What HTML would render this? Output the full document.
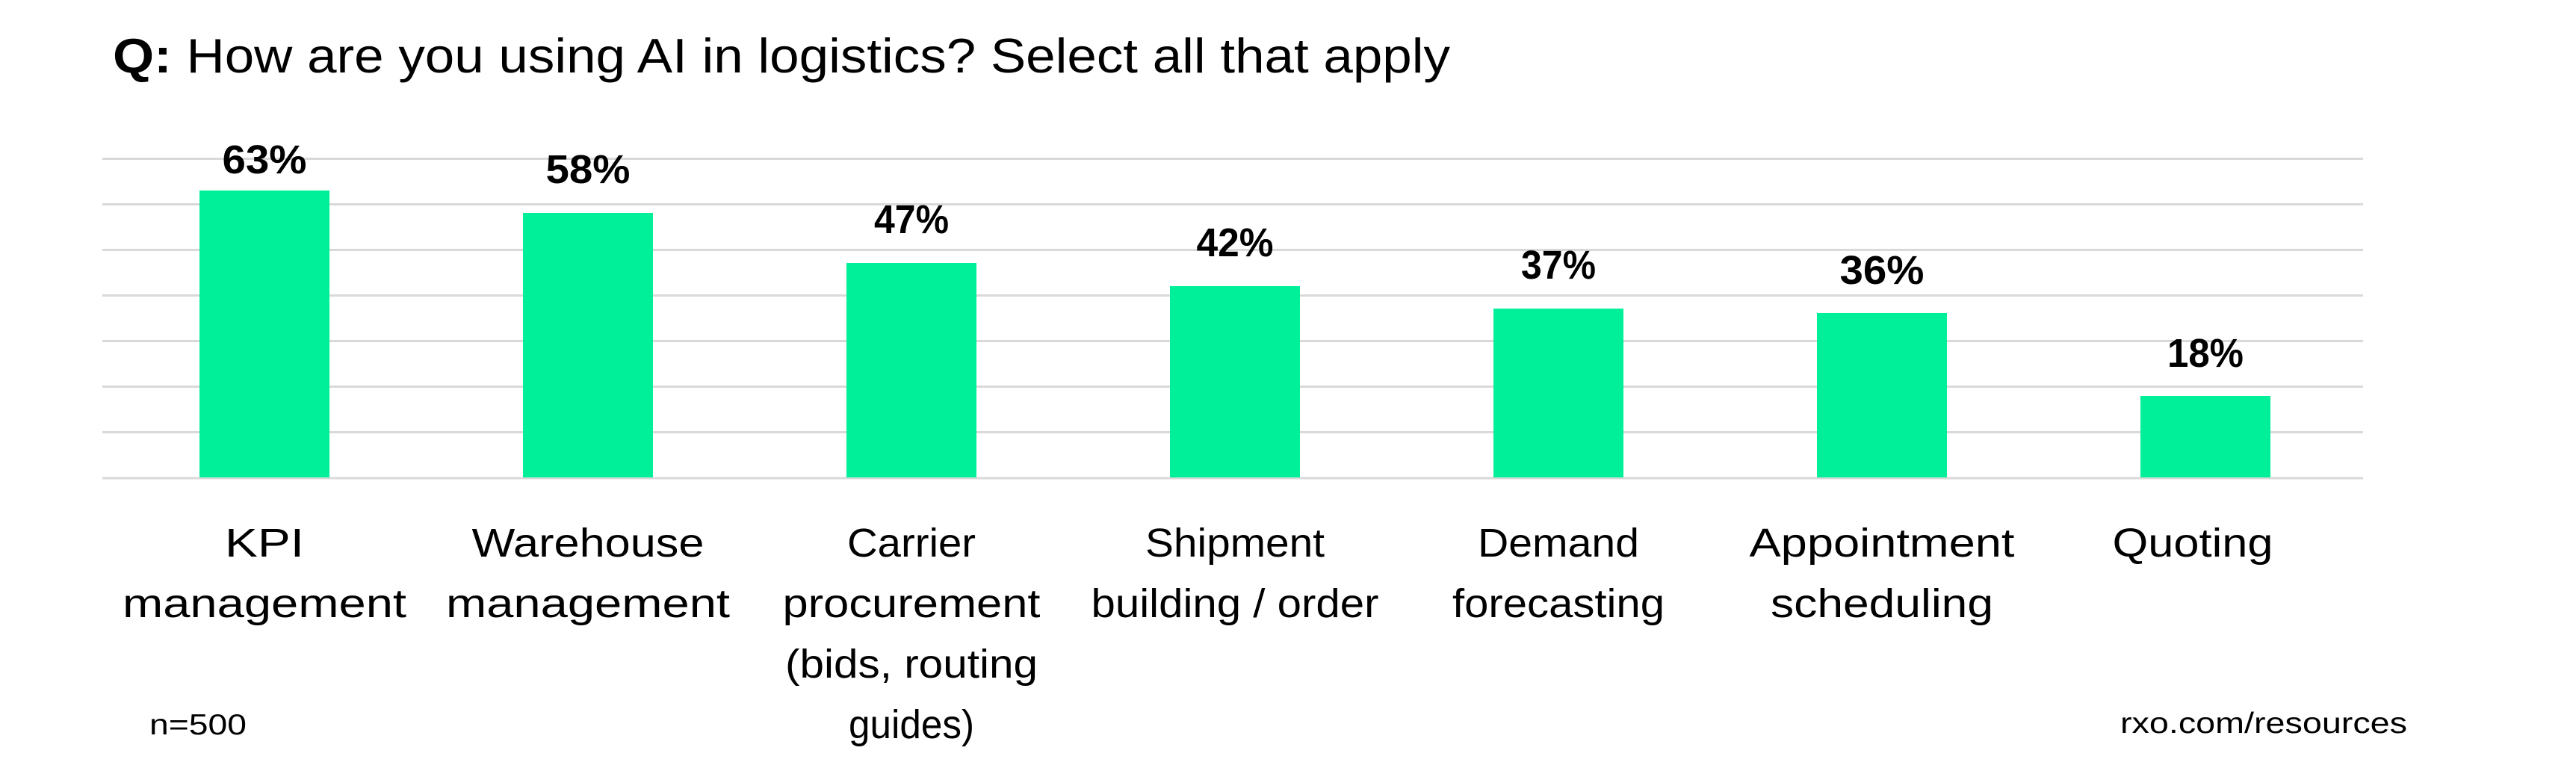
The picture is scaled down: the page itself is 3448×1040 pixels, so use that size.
<!DOCTYPE html>
<html><head><meta charset="utf-8"><style>
html,body{margin:0;padding:0;background:#fff;}
svg{display:block;}
text{font-family:"Liberation Sans",sans-serif;fill:#000;}
</style></head><body>
<svg width="3448" height="1040" viewBox="0 0 3448 1040" xmlns="http://www.w3.org/2000/svg">
<rect width="3448" height="1040" fill="#fff"/>
<text x="151" y="97" font-size="65" textLength="1790" lengthAdjust="spacingAndGlyphs"><tspan font-weight="bold">Q:</tspan> How are you using AI in logistics? Select all that apply</text>
<g stroke="#d9d9d9" stroke-width="3">
<line x1="137" x2="3163" y1="212.5" y2="212.5"/>
<line x1="137" x2="3163" y1="273.5" y2="273.5"/>
<line x1="137" x2="3163" y1="334.5" y2="334.5"/>
<line x1="137" x2="3163" y1="395.5" y2="395.5"/>
<line x1="137" x2="3163" y1="456.5" y2="456.5"/>
<line x1="137" x2="3163" y1="517.5" y2="517.5"/>
<line x1="137" x2="3163" y1="578.5" y2="578.5"/>
<line x1="137" x2="3163" y1="640" y2="640"/>
</g>
<g fill="#00f09a">
<rect x="267" y="255" width="174" height="384"/>
<rect x="700" y="285" width="174" height="354"/>
<rect x="1133" y="352" width="174" height="287"/>
<rect x="1566" y="383" width="174" height="256"/>
<rect x="1999" y="413" width="174" height="226"/>
<rect x="2432" y="419" width="174" height="220"/>
<rect x="2865" y="530" width="174" height="109"/>
</g>
<g font-size="54" font-weight="bold" text-anchor="middle">
<text x="354" y="232" textLength="113" lengthAdjust="spacingAndGlyphs">63%</text>
<text x="787" y="245" textLength="113" lengthAdjust="spacingAndGlyphs">58%</text>
<text x="1220" y="312" textLength="100" lengthAdjust="spacingAndGlyphs">47%</text>
<text x="1653" y="343" textLength="103" lengthAdjust="spacingAndGlyphs">42%</text>
<text x="2086" y="373" textLength="100" lengthAdjust="spacingAndGlyphs">37%</text>
<text x="2519" y="380" textLength="113" lengthAdjust="spacingAndGlyphs">36%</text>
<text x="2952" y="491" textLength="102" lengthAdjust="spacingAndGlyphs">18%</text>
</g>
<g font-size="54" text-anchor="middle">
<text x="354" y="745" textLength="106" lengthAdjust="spacingAndGlyphs">KPI</text>
<text x="354" y="826" textLength="380" lengthAdjust="spacingAndGlyphs">management</text>
<text x="787" y="745" textLength="311" lengthAdjust="spacingAndGlyphs">Warehouse</text>
<text x="787" y="826" textLength="380" lengthAdjust="spacingAndGlyphs">management</text>
<text x="1220" y="745" textLength="172" lengthAdjust="spacingAndGlyphs">Carrier</text>
<text x="1220" y="826" textLength="345" lengthAdjust="spacingAndGlyphs">procurement</text>
<text x="1220" y="907" textLength="338" lengthAdjust="spacingAndGlyphs">(bids, routing</text>
<text x="1220" y="988" textLength="168" lengthAdjust="spacingAndGlyphs">guides)</text>
<text x="1653" y="745" textLength="240" lengthAdjust="spacingAndGlyphs">Shipment</text>
<text x="1653" y="826" textLength="385" lengthAdjust="spacingAndGlyphs">building / order</text>
<text x="2086" y="745" textLength="216" lengthAdjust="spacingAndGlyphs">Demand</text>
<text x="2086" y="826" textLength="284" lengthAdjust="spacingAndGlyphs">forecasting</text>
<text x="2519" y="745" textLength="355" lengthAdjust="spacingAndGlyphs">Appointment</text>
<text x="2519" y="826" textLength="298" lengthAdjust="spacingAndGlyphs">scheduling</text>
<text x="2935" y="745" textLength="215" lengthAdjust="spacingAndGlyphs">Quoting</text>
</g>
<text x="200" y="983" font-size="39" textLength="130" lengthAdjust="spacingAndGlyphs">n=500</text>
<text x="2838" y="981" font-size="39" textLength="384" lengthAdjust="spacingAndGlyphs">rxo.com/resources</text>
</svg>
</body></html>
